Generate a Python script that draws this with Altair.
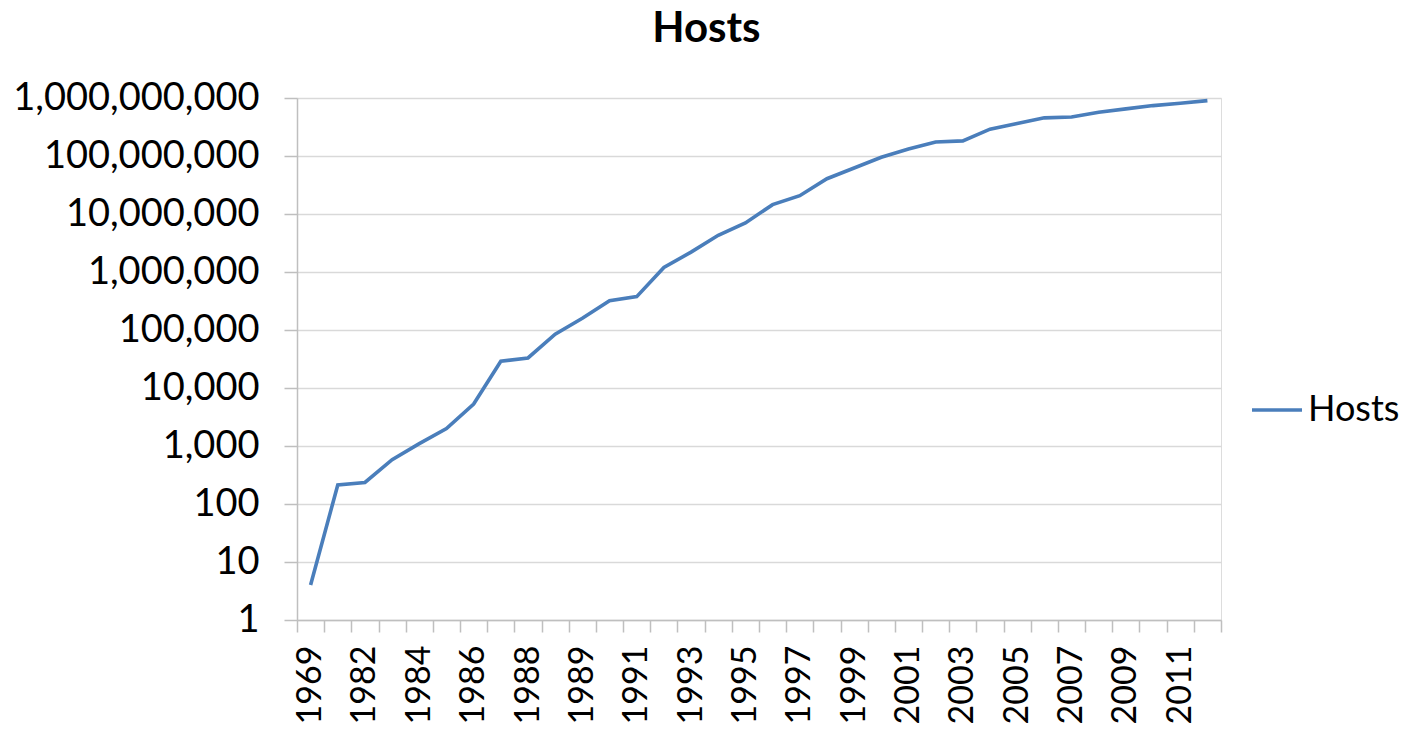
import altair as alt
import pandas as pd

# Category labels (two entries for 1988)
years = ["1969", "1981", "1982", "1983", "1984", "1985", "1986", "1987", "1988", "1988",
         "1989", "1990", "1991", "1992", "1993", "1994", "1995", "1996", "1997", "1998",
         "1999", "2000", "2001", "2002", "2003", "2004", "2005", "2006", "2007", "2008",
         "2009", "2010", "2011", "2012"]
hosts = [4, 213, 235, 580, 1100, 2000, 5300, 29000, 33000, 85000,
         159000, 320000, 376000, 1200000, 2200000, 4300000, 7000000, 14500000, 20700000, 40600000,
         62000000, 95000000, 132000000, 174000000, 182000000, 290000000, 365000000, 455000000, 470000000, 570000000,
         650000000, 740000000, 810000000, 900000000]
y_ticks = [1, 10, 100, 1000, 10000, 100000, 1000000, 10000000, 100000000, 1000000000]

df = pd.DataFrame({"idx": list(range(len(years))), "year": years, "hosts": hosts, "series": "Hosts"})

label_array = "[" + ",".join("'" + y + "'" for y in years) + "]"
label_expr = f"datum.value % 2 == 0 ? {label_array}[datum.value] : ''"

FONT = "Lato"

chart = alt.Chart(df).mark_line(strokeWidth=3.6).encode(
    x=alt.X("idx:O",
            scale=alt.Scale(type="band", paddingInner=0, paddingOuter=0),
            bandPosition=0.5,
            axis=alt.Axis(title=None, labelAngle=-90, labelExpr=label_expr, tickBand="extent",
                          grid=False, domainColor="#bfbfbf", domainWidth=1.5,
                          tickColor="#bfbfbf", tickWidth=1.5, tickSize=12,
                          labelFont=FONT, labelFontSize=34, labelColor="#000000",
                          labelPadding=13, labelLimit=0)),
    y=alt.Y("hosts:Q",
            scale=alt.Scale(type="log", domain=[1, 1000000000], nice=False),
            axis=alt.Axis(title=None, values=y_ticks, format=",", grid=True,
                          gridColor="#d9d9d9", gridWidth=1.5,
                          domainColor="#bfbfbf", domainWidth=1.5,
                          tickColor="#bfbfbf", tickWidth=1.5, tickSize=13,
                          labelFont=FONT, labelFontSize=38, labelColor="#000000",
                          labelPadding=25, labelLimit=0)),
    color=alt.Color("series:N",
                    scale=alt.Scale(domain=["Hosts"], range=["#4a7ebb"]),
                    legend=alt.Legend(title=None, orient="none", legendX=953, legendY=285,
                                      symbolType="stroke", symbolSize=2500, symbolStrokeWidth=3.6,
                                      labelFont=FONT, labelFontSize=36, labelColor="#000000",
                                      labelOffset=4, padding=0, labelLimit=0)),
).properties(
    width=924,
    height=522,
    title=alt.TitleParams("Hosts", font=FONT, fontSize=42, fontWeight="bold", color="#000000",
                          anchor="middle", frame="bounds", offset=28),
    autosize=alt.AutoSizeParams(type="none"),
    padding={"left": 289, "top": 90, "right": 181, "bottom": 104},
).configure_view(stroke=None).configure(background="white")

chart.save("out.html", embed_options={"renderer": "svg", "actions": False})
